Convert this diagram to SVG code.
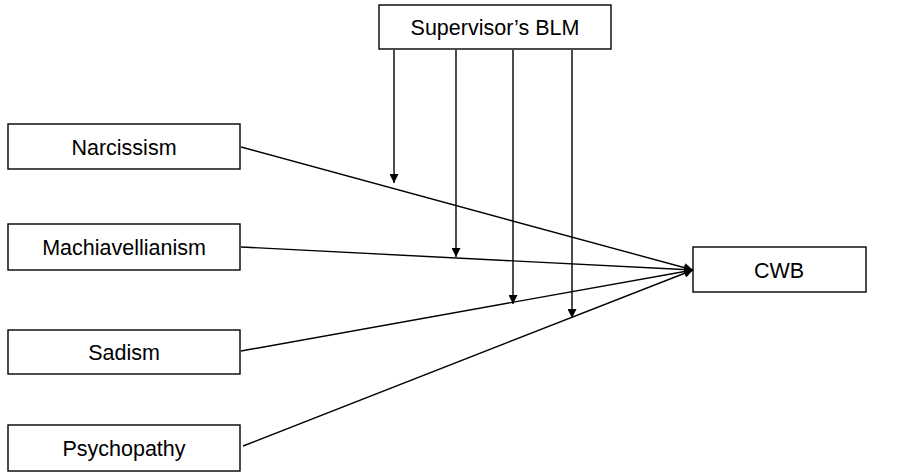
<svg xmlns="http://www.w3.org/2000/svg" width="915" height="472" viewBox="0 0 915 472">
<style>
.box{fill:#fff;stroke:#000;stroke-width:1.4}
.lbl{font-family:"Liberation Sans",Arial,sans-serif;font-size:21.5px;fill:#000;text-anchor:middle;dominant-baseline:central}
.ln{stroke:#000;stroke-width:1.4;fill:none;marker-end:url(#ah)}
</style>
<defs>
<marker id="ah" viewBox="0 0 10 10" refX="10" refY="5" markerWidth="9" markerHeight="9" markerUnits="userSpaceOnUse" orient="auto">
<path d="M0,0 L10,5 L0,10 z" fill="#000"/>
</marker>
</defs>
<rect width="915" height="472" fill="#fff"/>
<g id="connectors">
<line class="ln" x1="241" y1="147" x2="693" y2="270"/>
<line class="ln" x1="241" y1="247" x2="693" y2="270"/>
<line class="ln" x1="241" y1="351" x2="693" y2="270"/>
<line class="ln" x1="243" y1="446" x2="693" y2="270"/>
<line class="ln" x1="394" y1="50" x2="394" y2="183"/>
<line class="ln" x1="456" y1="50" x2="456" y2="257"/>
<line class="ln" x1="513" y1="50" x2="513" y2="304"/>
<line class="ln" x1="572" y1="50" x2="572" y2="318"/>
</g>
<g id="supervisor"><rect class="box" x="379" y="5" width="232" height="44"/><text class="lbl" x="495" y="28">Supervisor’s BLM</text></g>
<g id="narcissism"><rect class="box" x="8" y="124" width="232" height="45"/><text class="lbl" x="124" y="148">Narcissism</text></g>
<g id="machiavellianism"><rect class="box" x="8" y="224" width="232" height="46"/><text class="lbl" x="124" y="248">Machiavellianism</text></g>
<g id="sadism"><rect class="box" x="8" y="330" width="232" height="44"/><text class="lbl" x="124" y="353">Sadism</text></g>
<g id="psychopathy"><rect class="box" x="8" y="425" width="232" height="46"/><text class="lbl" x="124" y="449">Psychopathy</text></g>
<g id="cwb"><rect class="box" x="693" y="247" width="173" height="45"/><text class="lbl" x="779" y="271">CWB</text></g>
</svg>
